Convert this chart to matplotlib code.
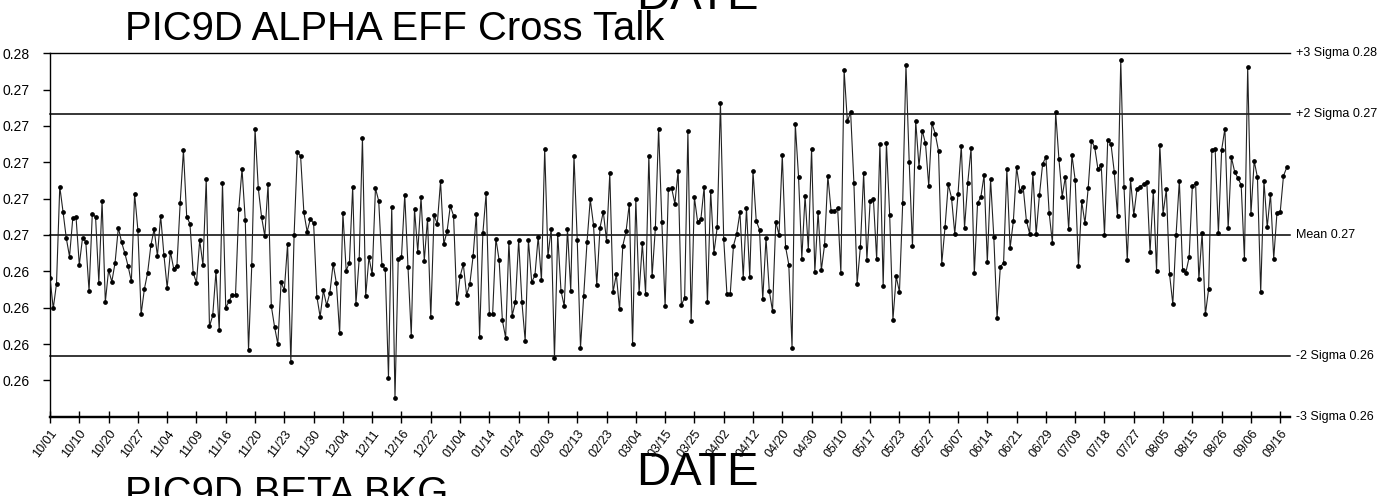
import numpy as np
import matplotlib
matplotlib.use("Agg")
import matplotlib.pyplot as plt
import matplotlib.ticker as ticker
import matplotlib.transforms as mtransforms

plt.rcParams["font.family"] = ["Liberation Sans", "DejaVu Sans"]

# Control limits for the alpha efficiency cross talk check
MEAN = 0.2660
SIGMA = 0.00333

# Date labels shown every 9th measurement
DATE_LABELS = [
    "10/01", "10/10", "10/20", "10/27", "11/04", "11/09", "11/16", "11/20", "11/23",
    "11/30", "12/04", "12/11", "12/16", "12/22", "01/04", "01/14", "01/24", "02/03",
    "02/13", "02/23", "03/04", "03/15", "03/25", "04/02", "04/12", "04/20", "04/30",
    "05/10", "05/17", "05/23", "05/27", "06/07", "06/14", "06/21", "06/29", "07/09",
    "07/18", "07/27", "08/05", "08/15", "08/26", "09/06", "09/16",
]
LABEL_EVERY = 9

ALPHA_EFF_XTALK = [
    0.26365, 0.26196, 0.26332, 0.26866, 0.26728, 0.26583, 0.26481, 0.26692, 0.26699, 0.26435,
    0.26585, 0.26563, 0.26292, 0.26717, 0.26699, 0.26338, 0.26787, 0.26231, 0.26407, 0.26343,
    0.26448, 0.26640, 0.26560, 0.26499, 0.26428, 0.26345, 0.26826, 0.26628, 0.26165, 0.26303,
    0.26393, 0.26543, 0.26633, 0.26484, 0.26705, 0.26490, 0.26310, 0.26508, 0.26415, 0.26431,
    0.26776, 0.27066, 0.26701, 0.26662, 0.26391, 0.26338, 0.26571, 0.26435, 0.26906, 0.26097,
    0.26158, 0.26400, 0.26075,
    0.26888, 0.26200, 0.26235, 0.26272, 0.26268, 0.26741, 0.26963, 0.26681, 0.25967, 0.26435,
    0.27184, 0.26857, 0.26699, 0.26594, 0.26879, 0.26209, 0.26095, 0.26000, 0.26339, 0.26297,
    0.26550, 0.25901, 0.26598, 0.27057, 0.27033, 0.26725, 0.26618, 0.26688, 0.26664, 0.26261,
    0.26150, 0.26295, 0.26213, 0.26283, 0.26442, 0.26334, 0.26059, 0.26721, 0.26404, 0.26448,
    0.26864, 0.26220, 0.26466, 0.27134, 0.26264, 0.26477, 0.26383, 0.26857, 0.26787, 0.26433,
    0.26413, 0.25816,
    0.26756, 0.25703, 0.26468, 0.26479, 0.26822, 0.26422, 0.26046, 0.26743, 0.26506, 0.26807,
    0.26459, 0.26690, 0.26147, 0.26708, 0.26661, 0.26895, 0.26550, 0.26620, 0.26760, 0.26705,
    0.26224, 0.26372, 0.26439, 0.26270, 0.26332, 0.26483, 0.26716, 0.26040, 0.26609, 0.26828,
    0.26163, 0.26163, 0.26580, 0.26461, 0.26130, 0.26035, 0.26563, 0.26156, 0.26231, 0.26572,
    0.26231, 0.26018, 0.26572, 0.26341, 0.26378, 0.26591, 0.26350, 0.27075, 0.26483, 0.26635,
    0.25921, 0.26607,
    0.26294, 0.26209, 0.26631, 0.26294, 0.27035, 0.26571, 0.25980, 0.26266, 0.26560, 0.26795,
    0.26655, 0.26325, 0.26640, 0.26728, 0.26569, 0.26938, 0.26284, 0.26383, 0.26191, 0.26541,
    0.26620, 0.26772, 0.26002, 0.26795, 0.26279, 0.26554, 0.26277, 0.27035, 0.26372, 0.26637,
    0.27184, 0.26670, 0.26207, 0.26853, 0.26857, 0.26772, 0.26952, 0.26215, 0.26255, 0.27171,
    0.26128, 0.26806, 0.26670, 0.26688, 0.26866, 0.26231, 0.26842, 0.26501, 0.26642, 0.27325,
    0.26580, 0.26273,
    0.26273, 0.26541, 0.26607, 0.26725, 0.26365, 0.26747, 0.26369, 0.26949, 0.26677, 0.26629,
    0.26246, 0.26583, 0.26294, 0.26182, 0.26673, 0.26600, 0.27039, 0.26536, 0.26437, 0.25980,
    0.27209, 0.26919, 0.26470, 0.26815, 0.26519, 0.27075, 0.26396, 0.26728, 0.26407, 0.26547,
    0.26925, 0.26732, 0.26730, 0.26750, 0.26391, 0.27505, 0.27224, 0.27275, 0.26888, 0.26332,
    0.26534, 0.26939, 0.26464, 0.26787, 0.26796, 0.26466, 0.27101, 0.26319, 0.27106, 0.26708,
    0.26134, 0.26372, 0.26286,
    0.26776, 0.27536, 0.27000, 0.26539, 0.27226, 0.26976, 0.27174, 0.27103, 0.26870, 0.27215,
    0.27156, 0.27061, 0.26442, 0.26642, 0.26879, 0.26804, 0.26606, 0.26826, 0.27090, 0.26639,
    0.26888, 0.27077, 0.26389, 0.26776, 0.26807, 0.26928, 0.26451, 0.26905, 0.26587, 0.26145,
    0.26426, 0.26446, 0.26961, 0.26528, 0.26677, 0.26971, 0.26844, 0.26866, 0.26679, 0.26607,
    0.26941, 0.26606, 0.26817, 0.26991, 0.27028, 0.26721, 0.26556, 0.27275, 0.27017, 0.26811,
    0.26921, 0.26631,
    0.27039, 0.26901, 0.26429, 0.26785, 0.26664, 0.26859, 0.27119, 0.27081, 0.26960, 0.26985,
    0.26602, 0.27123, 0.27099, 0.26947, 0.26705, 0.27562, 0.26862, 0.26461, 0.26905, 0.26710,
    0.26855, 0.26866, 0.26879, 0.26892, 0.26505, 0.26842, 0.26402, 0.27097, 0.26717, 0.26851,
    0.26383, 0.26220, 0.26602, 0.26899, 0.26409, 0.26393, 0.26477, 0.26870, 0.26883, 0.26356,
    0.26611, 0.26163, 0.26303, 0.27068, 0.27073, 0.26609, 0.27068, 0.27185, 0.26637, 0.27026,
    0.26947, 0.26912, 0.26875, 0.26468, 0.27523, 0.26714, 0.27007, 0.26916, 0.26284, 0.26897,
    0.26642, 0.26826, 0.26470, 0.26723, 0.26727, 0.26925, 0.26971,
]

W, H = 1394, 496
fig = plt.figure(figsize=(W / 100, H / 100), dpi=100)
ax = fig.add_axes([50 / W, 79.3 / H, 1240 / W, 363.5 / H])

vals = np.array(ALPHA_EFF_XTALK)
x = np.arange(len(vals))
ax.plot(x, vals, color="#222222", linewidth=0.8, marker="o", markersize=2.4,
        markerfacecolor="black", markeredgecolor="black", zorder=3)

# mean and sigma reference lines, labelled on the right
limits = [
    (3, "+3 Sigma", 1.0),
    (2, "+2 Sigma", 1.1),
    (0, "Mean", 1.1),
    (-2, "-2 Sigma", 1.1),
    (-3, "-3 Sigma", 1.6),
]
trans = mtransforms.blended_transform_factory(ax.transAxes, ax.transData)
for k, name, lw in limits:
    level = MEAN + k * SIGMA
    ax.axhline(level, color="black", linewidth=lw, clip_on=False, zorder=2)
    ax.text(1.005, level, f"{name} {level:.2f}", transform=trans,
            va="center", ha="left", fontsize=9)

ax.set_xlim(0, len(vals))
ax.set_ylim(MEAN - 3 * SIGMA, MEAN + 3 * SIGMA)

for side in ("top", "right"):
    ax.spines[side].set_visible(False)
ax.spines["left"].set_linewidth(1.0)
ax.spines["bottom"].set_linewidth(1.6)

ax.set_yticks([MEAN + k * 0.6 * SIGMA for k in range(-4, 6)])
ax.yaxis.set_major_formatter(ticker.FormatStrFormatter("%.2f"))
ax.tick_params(axis="y", direction="out", length=5, width=1, labelsize=10, pad=10)

ax.set_xticks(np.arange(len(DATE_LABELS)) * LABEL_EVERY)
ax.set_xticklabels(DATE_LABELS, rotation=53, ha="right", rotation_mode="anchor", fontsize=9)
ax.tick_params(axis="x", direction="inout", length=8, width=1, pad=4)

# chart titles and axis captions (neighbouring charts on the page are cut off)
fig.text(125 / W, 456 / H, "PIC9D ALPHA EFF Cross Talk", fontsize=28.8, va="baseline")
fig.text(0.5, 487 / H, "DATE", fontsize=34, ha="center", va="baseline")
fig.text(0.5, 11 / H, "DATE", fontsize=34, ha="center", va="baseline")
fig.text(125 / W, -9 / H, "PIC9D BETA BKG", fontsize=28.8, va="baseline")

fig.savefig("out.png", dpi=100)
plt.close(fig)
